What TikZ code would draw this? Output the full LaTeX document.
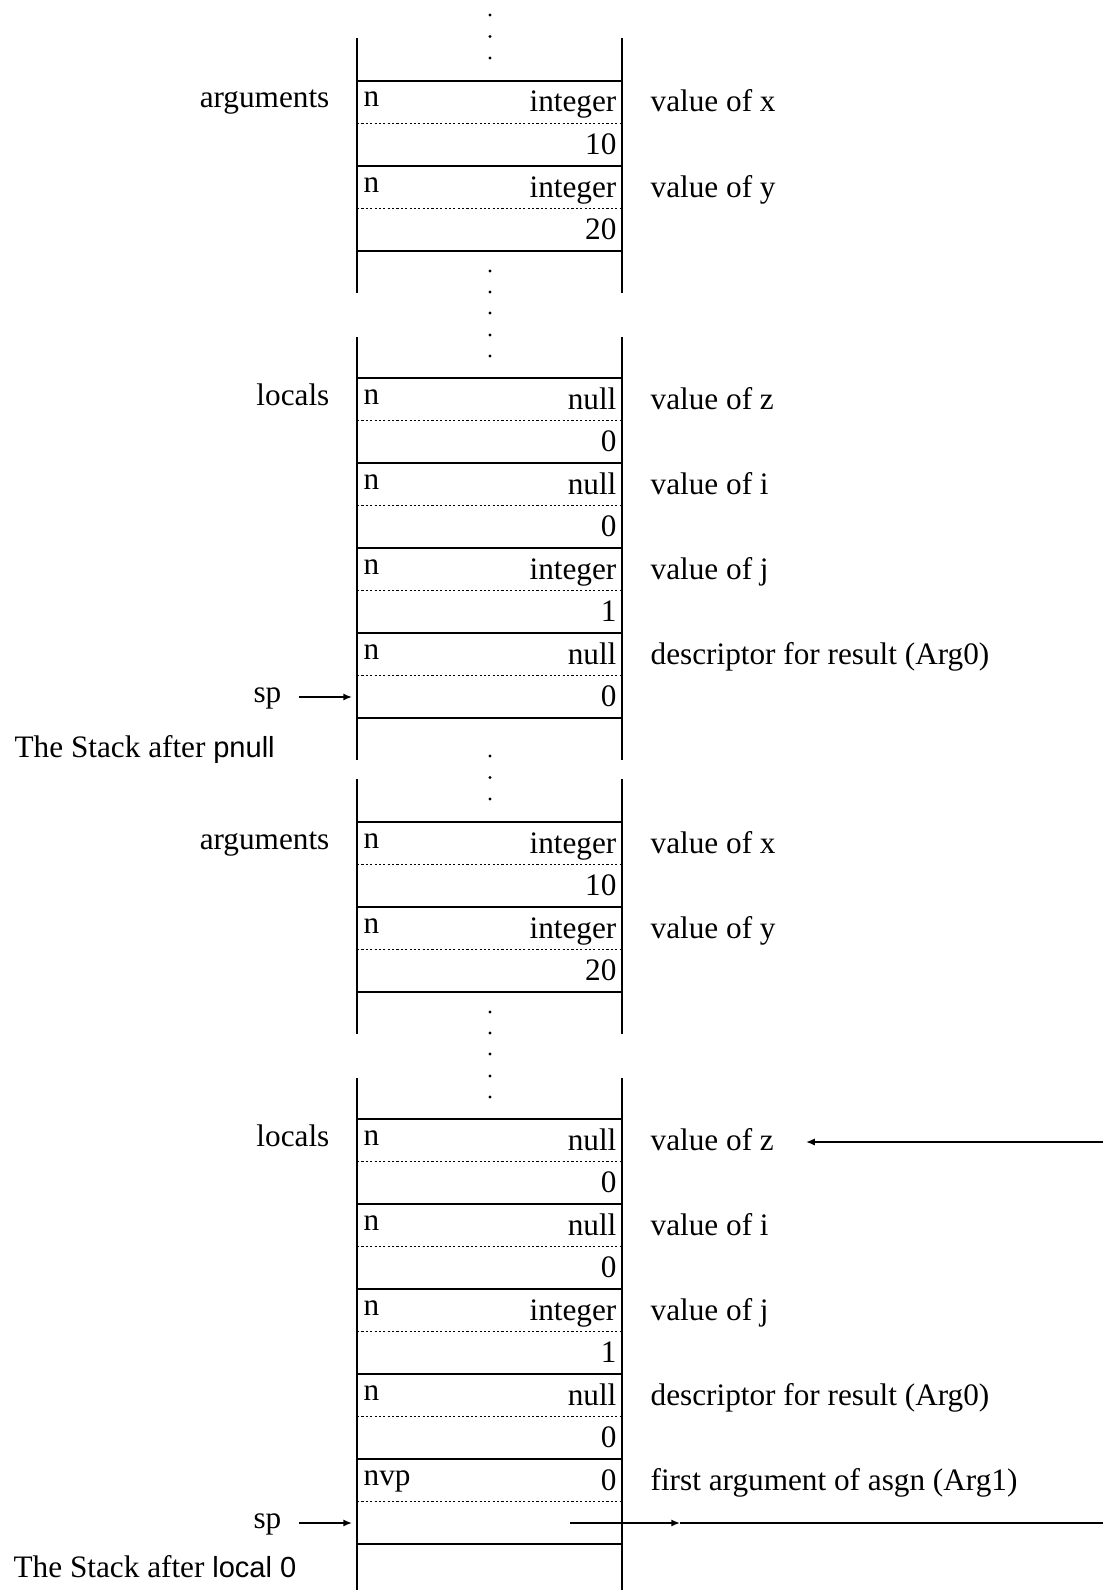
\documentclass[tikz,border=0pt]{standalone}
\usepackage{fontspec}
\setmainfont{Liberation Serif}
\setsansfont[Scale=0.93]{Liberation Sans}
\usetikzlibrary{arrows.meta}
\tikzset{
  boxline/.style={line width=0.6pt},
  edgeline/.style={line width=0.5pt},
  dashline/.style={line width=0.4pt,dash pattern=on 0.7pt off 0.7pt},
  flagtxt/.style={anchor=base west,inner sep=0pt},
  typtxt/.style={anchor=base east,inner sep=0pt},
  labtxt/.style={anchor=base west,inner sep=0pt},
  lefttxt/.style={anchor=base east,inner sep=0pt},
  arr/.style={line width=0.5pt,-{Latex[length=2.8pt,width=2.3pt]}},
  plain/.style={line width=0.5pt},
}
\newcommand{\mycell}[6]{%
  \draw[boxline] (357,#1) rectangle (622,#1+85);
  \draw[dashline] (357,#1+42.5) -- (622,#1+42.5);
  \node[flagtxt] (#2f) at (363,#1+26) {#3};
  \node[typtxt] (#2t) at (617,#1+31) {#4};
  \node[typtxt] (#2v) at (617,#1+73) {#5};
  \node[labtxt] (#2l) at (650,#1+31) {#6};
}
\newcommand{\mydots}[1]{\fill (490,#1) circle[radius=0.55pt];}
\begin{document}
\begin{tikzpicture}[x=0.32pt,y=-0.32pt,font=\fontsize{10}{12}\selectfont]
\useasboundingbox (0,0) rectangle (1103,1590);
% ---------- section 1 ----------
\mydots{15}\mydots{36.5}\mydots{58}
\draw[edgeline] (357,38) -- (357,293) (622,38) -- (622,293);
\mycell{81}{ax}{n}{integer}{10}{value of x}
\mycell{166}{ay}{n}{integer}{20}{value of y}
\node[lefttxt] (args1) at (330,108) {arguments};
\mydots{271}\mydots{292}\mydots{313}\mydots{335}\mydots{356}
\draw[edgeline] (357,337) -- (357,760) (622,337) -- (622,760);
\mycell{378}{lz}{n}{null}{0}{value of z}
\mycell{463}{li}{n}{null}{0}{value of i}
\mycell{548}{lj}{n}{integer}{1}{value of j}
\mycell{633}{lr}{n}{null}{0}{descriptor for result (Arg0)}
\node[lefttxt] (loc1) at (330,405) {locals};
\node[lefttxt] (sp1) at (282,702) {sp};
\coordinate (sp1a) at (299,697);
\coordinate (sp1b) at (352,697);
\draw[arr] (sp1a) -- (sp1b);
\node[anchor=base west,inner sep=0pt] (cap1) at (14,757) {The Stack after {\sffamily pnull}};
% ---------- section 2 ----------
\mydots{756}\mydots{777.5}\mydots{799}
\draw[edgeline] (357,779) -- (357,1034) (622,779) -- (622,1034);
\mycell{822}{bx}{n}{integer}{10}{value of x}
\mycell{907}{by}{n}{integer}{20}{value of y}
\node[lefttxt] (args2) at (330,849) {arguments};
\mydots{1012}\mydots{1033}\mydots{1054}\mydots{1076}\mydots{1097}
\draw[edgeline] (357,1078) -- (357,1590) (622,1078) -- (622,1590);
\mycell{1119}{mz}{n}{null}{0}{value of z}
\mycell{1204}{mi}{n}{null}{0}{value of i}
\mycell{1289}{mj}{n}{integer}{1}{value of j}
\mycell{1374}{mr}{n}{null}{0}{descriptor for result (Arg0)}
\mycell{1459}{ma}{nvp}{0}{}{first argument of asgn (Arg1)}
\node[lefttxt] (loc2) at (330,1146) {locals};
\node[lefttxt] (sp2) at (282,1528) {sp};
\coordinate (sp2a) at (299,1523);
\coordinate (sp2b) at (352,1523);
\draw[arr] (sp2a) -- (sp2b);
% arrow into value of z
\coordinate (za) at (1103,1142);
\coordinate (zb) at (806,1142);
\draw[arr] (za) -- (zb);
% arrow out of sp slot
\coordinate (oa) at (570,1523);
\coordinate (om) at (680,1523);
\coordinate (ob) at (1103,1523);
\draw[arr] (oa) -- (om);
\draw[plain] (om) -- (ob);
\node[anchor=base west,inner sep=0pt] (cap2) at (13,1577) {The Stack after {\sffamily local 0}};
\end{tikzpicture}
\end{document}
